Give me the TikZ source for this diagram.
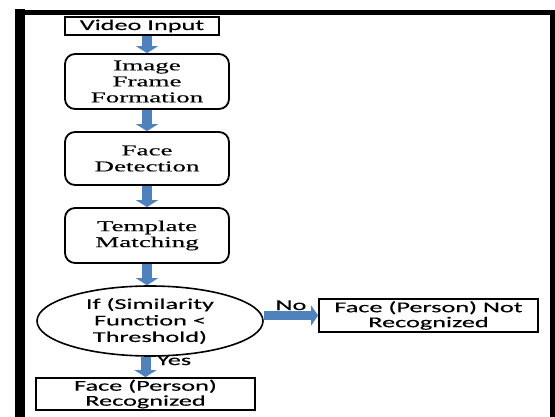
\documentclass[tikz,border=0pt]{standalone}
\usepackage{fontspec}
\setmainfont{Liberation Serif}
\newfontfamily\serifw[FakeStretch=1.8,FakeBold=0.3]{Liberation Serif}
\newfontfamily\sansw[FakeStretch=1.75,FakeBold=0.3]{Carlito}
\usetikzlibrary{arrows.meta,shapes.geometric}
\definecolor{arrowblue}{HTML}{4F81BD}
\begin{document}
\begin{tikzpicture}[x=1pt,y=-1pt,
  roundbox/.style={draw=black, line width=1.8pt, rounded corners=10pt, minimum width=164pt, inner sep=0pt, align=center, font=\serifw\fontsize{15}{16}\selectfont},
  plainbox/.style={draw=black, line width=1.8pt, inner sep=0pt, align=center, font=\sansw\fontsize{15}{15}\selectfont},
  condshape/.style={draw=black, line width=1.6pt, ellipse, inner sep=0pt, minimum width=226pt, minimum height=70pt, align=center, font=\sansw\fontsize{15}{16.5}\selectfont},
  barrow/.style={draw=arrowblue, line width=10pt, -{Triangle[width=22pt,length=7pt]}},
  lbl/.style={inner sep=0pt, anchor=base, font=\sansw\fontsize{15}{15}\selectfont}]
\useasboundingbox (0,0) rectangle (555,417);
% frame
\fill[black] (15,9) rectangle (25,417);
\fill[black] (15,10) rectangle (555,15);
\fill[black] (550,10) rectangle (555,417);
% nodes
\node[plainbox, minimum width=154pt, minimum height=18pt] (vin) at (142,26) {Video Input};
\node[roundbox, minimum height=55pt] (img) at (147,81.5) {Image\\Frame\\Formation};
\node[roundbox, minimum height=53pt] (fd) at (147,158.5) {Face\\Detection};
\node[roundbox, minimum height=55pt] (tm) at (147,235.5) {Template\\Matching};
\node[condshape] (cond) at (150,321) {If (Similarity\\Function <\\Threshold)};
\node[plainbox, minimum width=219pt, minimum height=33pt] (notrec) at (428.5,315.5) {Face (Person) Not\\Recognized};
\node[plainbox, minimum width=219pt, minimum height=32pt] (rec) at (145.5,394) {Face (Person)\\Recognized};
% connectors
\draw[barrow] (img.north |- vin.south) -- (img.north);
\draw[barrow] (img.south) -- (fd.north);
\draw[barrow] (fd.south) -- (tm.north);
\draw[barrow] (tm.south) -- (tm.south |- cond.north);
\draw[barrow, line width=9pt, -{Triangle[width=20pt,length=7pt]}] (cond.east |- notrec.west) -- (notrec.west);
\draw[barrow] (rec.north |- cond.south) -- (rec.north);
% labels
\node[lbl] (no) at (291,310) {No};
\node[lbl] (yes) at (174,365) {Yes};
\end{tikzpicture}
\end{document}
